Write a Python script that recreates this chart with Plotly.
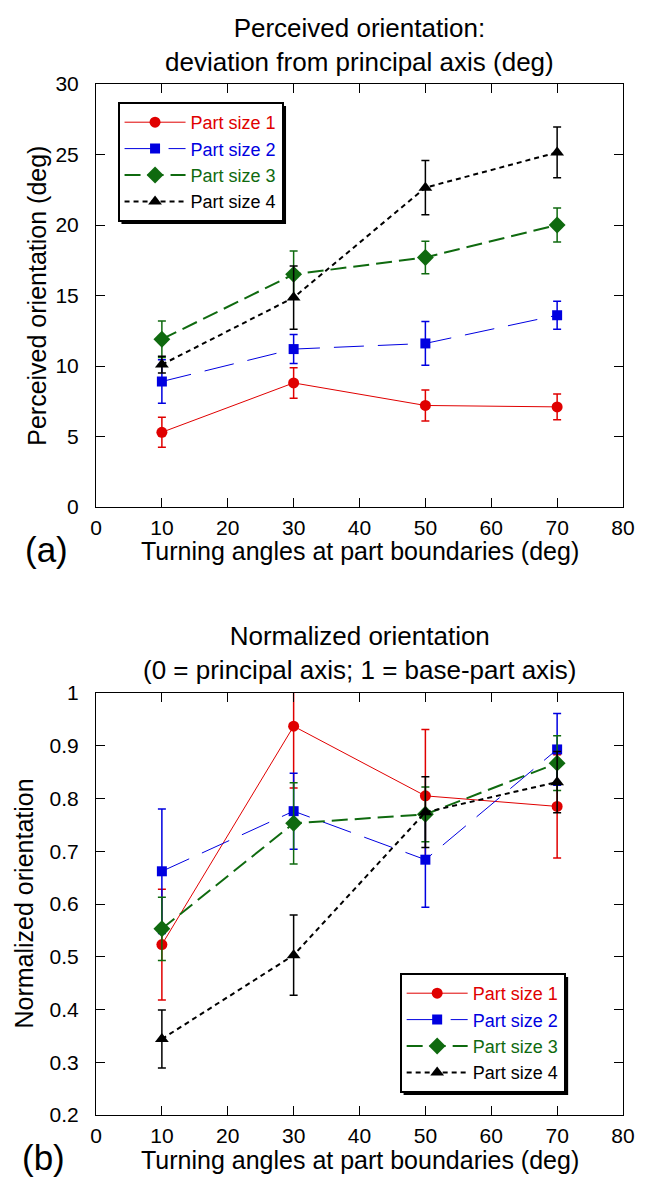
import plotly.graph_objects as go

# Turning angles at part boundaries (deg)
angles = [10, 30, 50, 70]
series_names = ["Part size 1", "Part size 2", "Part size 3", "Part size 4"]

# Panel (a): perceived orientation, deviation from principal axis (deg)
perceived_size1 = [5.3, 8.8, 7.2, 7.1]
perceived_size1_err = [1.07, 1.08, 1.1, 0.92]
perceived_size2 = [8.9, 11.2, 11.6, 13.6]
perceived_size2_err = [1.55, 1.03, 1.55, 1.0]
perceived_size3 = [11.9, 16.5, 17.7, 20.0]
perceived_size3_err = [1.3, 1.66, 1.15, 1.2]
perceived_size4 = [10.1, 14.85, 22.65, 25.15]
perceived_size4_err = [0.6, 2.24, 1.93, 1.8]

# Panel (b): normalized orientation (0 = principal axis, 1 = base-part axis)
normalized_size1 = [0.523, 0.937, 0.805, 0.785]
normalized_size1_err = [0.105, 0.117, 0.126, 0.098]
normalized_size2 = [0.662, 0.776, 0.684, 0.893]
normalized_size2_err = [0.118, 0.072, 0.09, 0.068]
normalized_size3 = [0.553, 0.753, 0.770, 0.867]
normalized_size3_err = [0.06, 0.077, 0.052, 0.052]
normalized_size4 = [0.344, 0.503, 0.774, 0.831]
normalized_size4_err = [0.055, 0.076, 0.067, 0.058]

x_ticks = [0, 10, 20, 30, 40, 50, 60, 70, 80]
perceived_ticks = [0, 5, 10, 15, 20, 25, 30]
normalized_ticks = [0.2, 0.3, 0.4, 0.5, 0.6, 0.7, 0.8, 0.9, 1]
normalized_tick_text = ["0.2", "0.3", "0.4", "0.5", "0.6", "0.7", "0.8", "0.9", "1"]

FONT = "Arial, 'Liberation Sans', Helvetica, sans-serif"

styles = [
    dict(color="#e00000", symbol="circle", size=11, dash="solid", width=1, ew=1.5),
    dict(color="#0000e0", symbol="square", size=10, dash="30px,14px", width=1, ew=1.5),
    dict(color="#0f6a0f", symbol="diamond", size=13, dash="16px,7px", width=2, ew=1.5),
    dict(color="#000000", symbol="triangle-up", size=12, dash="5px,4px", width=2, ew=1.5),
]

# figure geometry (pixels)
W, H = 647, 1177
L, R, T, B = 96, 13, 84, 62
PLOT_W = W - L - R
PLOT_H = H - T - B
top_y0, top_y1 = 84, 507
bot_y0, bot_y1 = 693, 1115


def px(x):
    return (x - L) / PLOT_W


def py(y):
    return (H - B - y) / PLOT_H


fig = go.Figure()

panel_a = [
    (perceived_size1, perceived_size1_err),
    (perceived_size2, perceived_size2_err),
    (perceived_size3, perceived_size3_err),
    (perceived_size4, perceived_size4_err),
]
panel_b = [
    (normalized_size1, normalized_size1_err),
    (normalized_size2, normalized_size2_err),
    (normalized_size3, normalized_size3_err),
    (normalized_size4, normalized_size4_err),
]

for panel, xa, ya, leg in [(panel_a, "x", "y", "legend"), (panel_b, "x2", "y2", "legend2")]:
    for (vals, errs), name, st in zip(panel, series_names, styles):
        fig.add_trace(go.Scatter(
            x=angles, y=vals, mode="lines+markers",
            name=f'<span style="color:{st["color"]}">{name}</span>',
            line=dict(color=st["color"], width=st["width"], dash=st["dash"]),
            marker=dict(symbol=st["symbol"], size=st["size"], color=st["color"]),
            error_y=dict(type="data", array=errs, visible=True, color=st["color"],
                         thickness=st["ew"], width=4),
            xaxis=xa, yaxis=ya, legend=leg,
        ))

axis_common = dict(
    showline=True, linecolor="black", linewidth=1, mirror="ticks",
    ticks="inside", ticklen=9, tickwidth=1, tickcolor="black",
    showgrid=False, zeroline=False,
    tickfont=dict(family=FONT, size=21, color="black"),
)

LEG_FONT = 18
legend_common = dict(
    bgcolor="white", bordercolor="black", borderwidth=2,
    font=dict(family=FONT, size=LEG_FONT, color="black"),
    xanchor="left", yanchor="top", itemwidth=61,
    tracegroupgap=0,
)

fig.update_layout(
    width=W, height=H,
    margin=dict(l=L, r=R, t=T, b=B),
    paper_bgcolor="white", plot_bgcolor="white",
    font=dict(family=FONT, color="black"),
    xaxis=dict(domain=[0, 1], range=[0, 80], tickvals=x_ticks, anchor="y",
               ticklabelstandoff=2, **axis_common),
    yaxis=dict(domain=[py(top_y1), py(top_y0)], range=[0, 30], tickvals=perceived_ticks,
               anchor="x", ticklabelstandoff=12, **axis_common),
    xaxis2=dict(domain=[0, 1], range=[0, 80], tickvals=x_ticks, anchor="y2",
                ticklabelstandoff=2, **axis_common),
    yaxis2=dict(domain=[py(bot_y1), py(bot_y0)], range=[0.2, 1], tickvals=normalized_ticks,
                ticktext=normalized_tick_text, anchor="x2", ticklabelstandoff=12,
                **axis_common),
    legend=dict(x=px(118), y=py(102), **legend_common),
    legend2=dict(x=px(406), y=py(973), **legend_common),
    showlegend=True,
)

# legend drop shadows, sized to the rendered legend box
shadow = 4
leg_w, leg_h = 168, 118
for (lx, ly) in [(118, 102), (406, 973)]:
    fig.add_shape(type="rect", xref="paper", yref="paper",
                  x0=px(lx + shadow), x1=px(lx + leg_w + shadow),
                  y0=py(ly + leg_h + shadow), y1=py(ly + shadow),
                  fillcolor="black", line=dict(width=0), layer="above")

# panel titles
titles = [
    ("Perceived orientation:<br>deviation from principal axis (deg)", 45),
    ("Normalized orientation<br>(0 = principal axis; 1 = base-part axis)", 653),
]
for txt, yc in titles:
    fig.add_annotation(text=txt, xref="paper", yref="paper", x=0.5, y=py(yc),
                       xanchor="center", yanchor="middle", showarrow=False,
                       font=dict(family=FONT, size=26, color="black"))

# x-axis titles
for yc in (551, 1160):
    fig.add_annotation(text="Turning angles at part boundaries (deg)", xref="paper",
                       yref="paper", x=0.5, y=py(yc), xanchor="center", yanchor="middle",
                       showarrow=False, font=dict(family=FONT, size=25, color="black"))

# panel letters
fig.add_annotation(text="(a)", xref="paper", yref="paper", x=px(45), y=py(549),
                   xanchor="center", yanchor="middle", showarrow=False,
                   font=dict(family=FONT, size=35, color="black"))
fig.add_annotation(text="(b)", xref="paper", yref="paper", x=px(42), y=py(1157),
                   xanchor="center", yanchor="middle", showarrow=False,
                   font=dict(family=FONT, size=35, color="black"))

# y-axis titles
fig.add_annotation(text="Perceived orientation (deg)", xref="paper", yref="paper",
                   x=px(35), y=py((top_y0 + top_y1) / 2), textangle=-90,
                   xanchor="center", yanchor="middle", showarrow=False,
                   font=dict(family=FONT, size=25, color="black"))
fig.add_annotation(text="Normalized orientation", xref="paper", yref="paper",
                   x=px(22), y=py((bot_y0 + bot_y1) / 2), textangle=-90,
                   xanchor="center", yanchor="middle", showarrow=False,
                   font=dict(family=FONT, size=25, color="black"))

fig.write_html("out.html")
